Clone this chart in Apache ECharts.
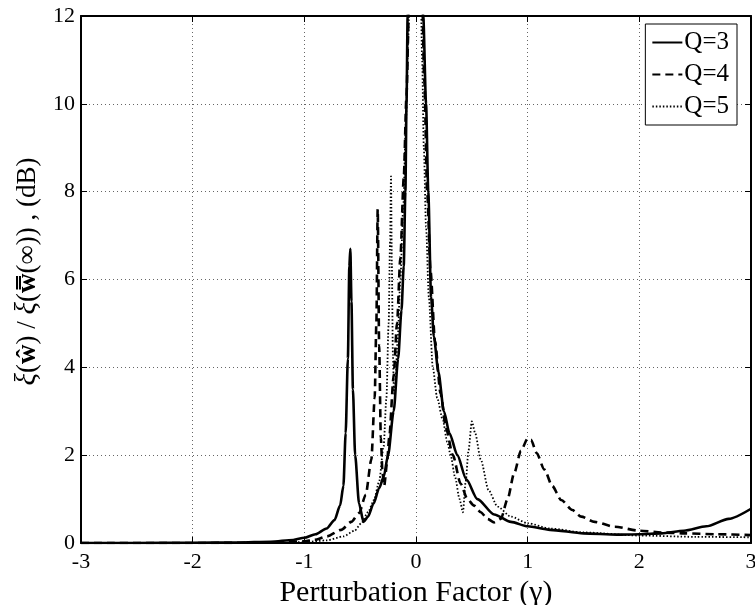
<!DOCTYPE html>
<html>
<head>
<meta charset="utf-8">
<script src="https://cdn.jsdelivr.net/npm/echarts@6/dist/echarts.min.js"></script>
<style>html,body{margin:0;padding:0;background:#fff}#c{width:755px;height:605px}</style>
</head>
<body>
<div id="c"></div>
<script>
const xTicks = [-3, -2, -1, 0, 1, 2, 3];
const yTicks = [0, 2, 4, 6, 8, 10, 12];
const seriesNames = ['Q=3', 'Q=4', 'Q=5'];

const gammaQ3 = [-3, -2.5, -2, -1.6, -1.3, -1.1, -1.0, -0.9, -0.8, -0.73, -0.68, -0.65, -0.63, -0.61, -0.597, -0.588, -0.578, -0.565, -0.545, -0.51, -0.47, -0.43, -0.38, -0.33, -0.29, -0.25, -0.2, -0.16, -0.13, -0.11, -0.095, -0.085, -0.075, -0.06, -0.03, 0, 0.03, 0.05, 0.065, 0.09, 0.11, 0.135, 0.16, 0.2, 0.25, 0.3, 0.37, 0.45, 0.55, 0.7, 0.85, 1.0, 1.2, 1.5, 1.8, 2.0, 2.2, 2.4, 2.6, 2.8, 3.0];
const valQ3 = [0, 0, 0.005, 0.01, 0.03, 0.07, 0.12, 0.2, 0.33, 0.52, 0.85, 1.3, 2.5, 4.2, 6.3, 6.7, 5.5, 3.5, 2.0, 0.9, 0.48, 0.6, 0.9, 1.25, 1.5, 2.0, 3.0, 4.2, 5.3, 6.3, 8.0, 10.0, 12.0, 15, 19, 20, 17, 14, 12, 10, 8, 5.6, 4.7, 3.9, 3.0, 2.5, 2.0, 1.45, 1.0, 0.65, 0.48, 0.38, 0.3, 0.22, 0.19, 0.2, 0.22, 0.28, 0.38, 0.55, 0.78];

const gammaQ4 = [-3, -2, -1.5, -1.2, -1.0, -0.91, -0.8, -0.67, -0.58, -0.51, -0.45, -0.40, -0.37, -0.355, -0.343, -0.33, -0.315, -0.3, -0.285, -0.26, -0.24, -0.2, -0.17, -0.14, -0.11, -0.085, -0.065, -0.04, 0, 0.03, 0.05, 0.075, 0.1, 0.13, 0.17, 0.22, 0.27, 0.33, 0.4, 0.46, 0.52, 0.58, 0.64, 0.70, 0.76, 0.82, 0.88, 0.94, 1.0, 1.03, 1.08, 1.15, 1.22, 1.30, 1.4, 1.48, 1.6, 1.78, 2.0, 2.2, 2.38, 2.7, 3.0];
const valQ4 = [0, 0, 0.005, 0.02, 0.04, 0.07, 0.15, 0.3, 0.48, 0.68, 1.1, 1.9, 3.3, 5.0, 7.6, 4.5, 2.4, 1.6, 1.3, 1.8, 2.4, 3.8, 5.0, 6.5, 8.3, 10.2, 12, 15, 20, 15, 13, 10.5, 8, 6.2, 4.6, 3.4, 2.6, 2.0, 1.35, 1.0, 0.85, 0.7, 0.55, 0.47, 0.55, 1.0, 1.6, 2.1, 2.38, 2.35, 2.05, 1.67, 1.3, 0.98, 0.75, 0.6, 0.48, 0.37, 0.28, 0.24, 0.22, 0.2, 0.18];

const gammaQ5 = [-3, -2, -1.5, -1.2, -1.0, -0.8, -0.65, -0.55, -0.49, -0.43, -0.376, -0.33, -0.29, -0.265, -0.245, -0.232, -0.224, -0.216, -0.207, -0.197, -0.185, -0.165, -0.14, -0.115, -0.09, -0.07, -0.05, -0.03, 0, 0.02, 0.04, 0.055, 0.07, 0.09, 0.115, 0.15, 0.19, 0.24, 0.28, 0.31, 0.35, 0.39, 0.42, 0.445, 0.47, 0.5, 0.53, 0.58, 0.65, 0.73, 0.85, 1.0, 1.2, 1.5, 2.0, 2.5, 3.0];
const valQ5 = [0, 0, 0, 0.005, 0.02, 0.06, 0.15, 0.28, 0.45, 0.7, 0.98, 1.4, 2.2, 3.3, 5.0, 6.9, 8.35, 6.3, 4.3, 3.4, 3.6, 4.6, 6.0, 7.6, 9.6, 11.5, 13.5, 16, 20, 16, 13, 11, 9, 7.2, 5.6, 4.0, 3.3, 2.8, 2.3, 2.0, 1.5, 1.0, 0.7, 1.4, 2.1, 2.77, 2.5, 1.9, 1.2, 0.83, 0.6, 0.45, 0.33, 0.24, 0.17, 0.14, 0.13];

function pairs(g, v) { return g.map((x, i) => [x, v[i]]); }

const FONT = '"Liberation Serif", "Times New Roman", serif';
const chart = echarts.init(document.getElementById('c'), null, { renderer: 'canvas' });

const gridLine = { show: true, lineStyle: { color: '#666', type: [1, 3], width: 1 } };
const axLine = { show: true, onZero: false, lineStyle: { color: '#000', width: 2 } };
const tick = { show: true, inside: true, length: 6, lineStyle: { color: '#000' } };

chart.setOption({
  animation: false,
  backgroundColor: '#fff',
  grid: { left: 81, right: 4, top: 16, bottom: 62, containLabel: false, outerBoundsMode: 'none' },
  legend: {
    orient: 'vertical',
    right: 18,
    top: 24,
    padding: [6, 8, 6, 6],
    itemGap: 7,
    itemWidth: 30,
    itemHeight: 14,
    backgroundColor: '#fff',
    borderColor: '#000',
    borderWidth: 1,
    borderRadius: 0,
    itemStyle: { opacity: 0 },
    data: seriesNames,
    textStyle: { fontFamily: FONT, fontSize: 25, color: '#000', padding: [0, 0, 0, -3] }
  },
  xAxis: [{
    type: 'value', min: xTicks[0], max: xTicks[xTicks.length - 1], interval: 1,
    name: 'Perturbation Factor (γ)', nameLocation: 'middle', nameGap: 16,
    nameTextStyle: { fontFamily: FONT, fontSize: 30, color: '#000' },
    axisLine: axLine, axisTick: tick,
    axisLabel: { fontFamily: FONT, fontSize: 22, color: '#000', margin: 8 },
    splitLine: gridLine
  }, {
    type: 'value', position: 'top', min: xTicks[0], max: xTicks[xTicks.length - 1], interval: 1,
    axisLine: axLine, axisTick: tick,
    axisLabel: { show: false }, splitLine: { show: false }
  }],
  yAxis: [{
    type: 'value', min: yTicks[0], max: yTicks[yTicks.length - 1], interval: 2,
    name: '{i|ξ}({b|ŵ}) / {i|ξ}({b|w̿}(∞)) , (dB)',
    nameLocation: 'middle', nameGap: 36, nameRotate: 90,
    nameTextStyle: {
      fontFamily: FONT, fontSize: 27, color: '#000', padding: [0, 0, 0, 16],
      rich: {
        i: { fontFamily: FONT, fontStyle: 'italic', fontSize: 29, color: '#000' },
        b: { fontFamily: FONT, fontWeight: 'bold', fontSize: 27, color: '#000' }
      }
    },
    axisLine: axLine, axisTick: tick,
    axisLabel: { fontFamily: FONT, fontSize: 22, color: '#000', margin: 6 },
    splitLine: gridLine
  }, {
    type: 'value', position: 'right', min: yTicks[0], max: yTicks[yTicks.length - 1], interval: 2,
    axisLine: axLine, axisTick: tick,
    axisLabel: { show: false }, splitLine: { show: false }
  }],
  series: [
    { name: seriesNames[0], type: 'line', data: pairs(gammaQ3, valQ3), symbol: 'none', smooth: 0.25, smoothMonotone: 'x', clip: true,
      lineStyle: { color: '#000', width: 2.6, type: 'solid' }, itemStyle: { color: '#000' } },
    { name: seriesNames[1], type: 'line', data: pairs(gammaQ4, valQ4), symbol: 'none', smooth: 0.25, smoothMonotone: 'x', clip: true,
      lineStyle: { color: '#000', width: 2.6, type: [8, 5] }, itemStyle: { color: '#000' } },
    { name: seriesNames[2], type: 'line', data: pairs(gammaQ5, valQ5), symbol: 'none', smooth: 0.25, smoothMonotone: 'x', clip: true,
      lineStyle: { color: '#000', width: 1.8, type: [1.5, 2] }, itemStyle: { color: '#000' } }
  ]
});
</script>
</body>
</html>
